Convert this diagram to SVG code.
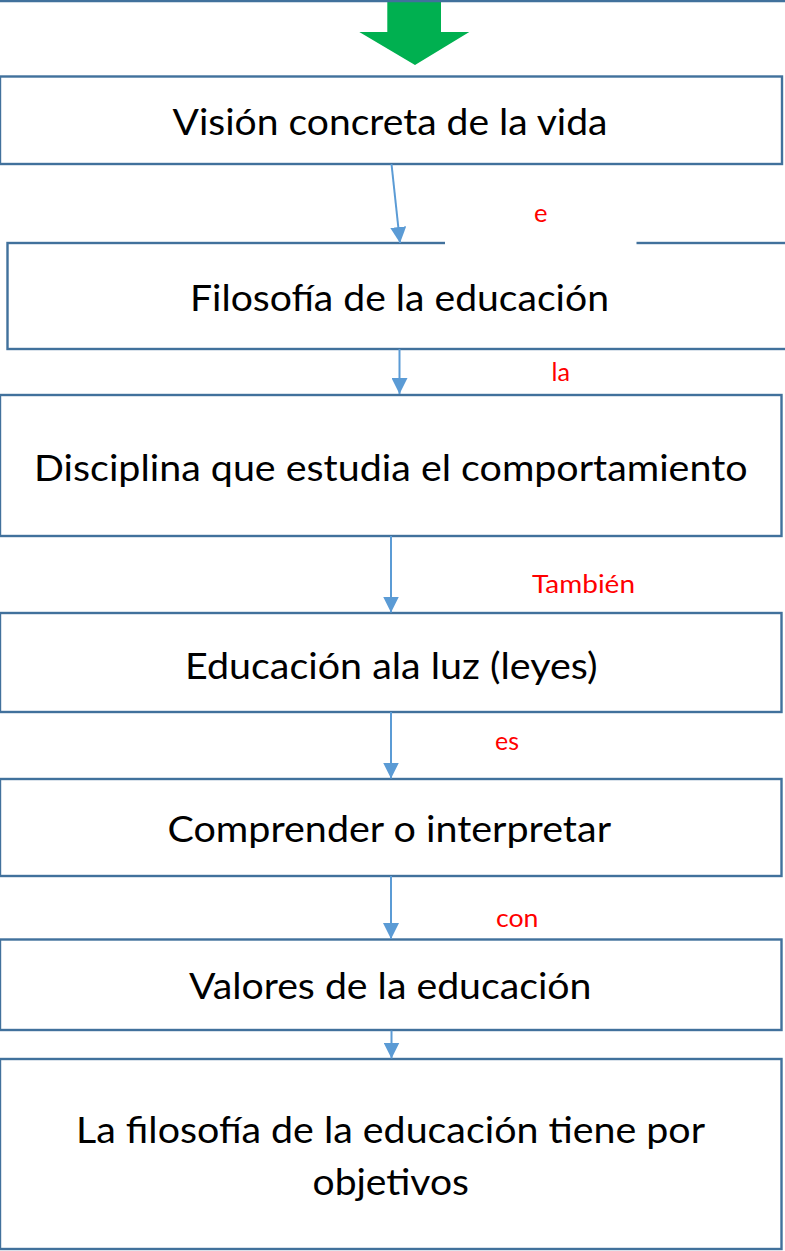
<svg xmlns="http://www.w3.org/2000/svg" width="785" height="1251" viewBox="0 0 785 1251">
<style>
.box{fill:#ffffff;stroke:#41719C;stroke-width:2.4}
.t{font-family:Lato,"Liberation Sans",sans-serif;font-size:36.5px;fill:#000000}
.lbl{font-family:Lato,"Liberation Sans",sans-serif;font-size:25.5px;fill:#FF0000}
.con{stroke:#5B9BD5;stroke-width:2;fill:none;marker-end:url(#ah)}
</style>
<defs>
<marker id="ah" markerUnits="userSpaceOnUse" markerWidth="16" markerHeight="16" viewBox="0 0 15 15" refX="15" refY="7.5" orient="auto">
<path d="M0,0 L15,7.5 L0,15 z" fill="#5B9BD5"/>
</marker>
</defs>
<rect width="785" height="1251" fill="#ffffff"/>
<g id="start-arrow">
<polygon points="387.3,0 441,0 441,32 469.3,32 415,65 359.3,32 387.3,32" fill="#00B050"/>
</g>
<g id="prev-box">
<line x1="0" y1="1" x2="785" y2="1" stroke="#41719C" stroke-width="2.4"/>
</g>
<g id="n1">
<rect class="box" x="0" y="76.5" width="782" height="87.5"/>
<text class="t" x="172.5" y="135" textLength="435" lengthAdjust="spacingAndGlyphs">Visión concreta de la vida</text>
</g>
<g id="n2">
<rect class="box" x="7.5" y="243" width="800" height="106"/>
<text class="t" x="190" y="310.7" textLength="419" lengthAdjust="spacingAndGlyphs">Filosofía de la educación</text>
</g>
<g id="n3">
<rect class="box" x="0" y="395" width="781.5" height="141"/>
<text class="t" x="34" y="480.7" textLength="713.5" lengthAdjust="spacingAndGlyphs">Disciplina que estudia el comportamiento</text>
</g>
<g id="n4">
<rect class="box" x="0" y="613" width="781.5" height="99"/>
<text class="t" x="185" y="679" textLength="412.5" lengthAdjust="spacingAndGlyphs">Educación ala luz (leyes)</text>
</g>
<g id="n5">
<rect class="box" x="0" y="779" width="781.5" height="97"/>
<text class="t" x="167.5" y="841.7" textLength="443.5" lengthAdjust="spacingAndGlyphs">Comprender o interpretar</text>
</g>
<g id="n6">
<rect class="box" x="0" y="939.5" width="781.5" height="90.5"/>
<text class="t" x="189" y="999.3" textLength="402.5" lengthAdjust="spacingAndGlyphs">Valores de la educación</text>
</g>
<g id="n7">
<rect class="box" x="0" y="1059" width="781.5" height="190"/>
<text class="t" x="76" y="1143" textLength="629" lengthAdjust="spacingAndGlyphs">La filosofía de la educación tiene por</text>
<text class="t" x="312.5" y="1195" textLength="156.5" lengthAdjust="spacingAndGlyphs">objetivos</text>
</g>
<g id="connectors">
<line class="con" x1="391.5" y1="164" x2="400" y2="243"/>
<line class="con" x1="399.5" y1="349" x2="399.5" y2="394"/>
<line class="con" x1="391" y1="536" x2="391" y2="612.5"/>
<line class="con" x1="391" y1="712" x2="391" y2="778.5"/>
<line class="con" x1="391" y1="876" x2="391" y2="939"/>
<line class="con" x1="391.5" y1="1030.5" x2="391.5" y2="1058.5"/>
</g>
<g id="labels">
<rect x="445" y="190" width="191.5" height="57" fill="#ffffff"/>
<text class="lbl" x="534" y="221.5" textLength="13.5" lengthAdjust="spacingAndGlyphs">e</text>
<text class="lbl" x="551.5" y="380.7" textLength="18.5" lengthAdjust="spacingAndGlyphs">la</text>
<text class="lbl" x="532" y="593.3" textLength="103" lengthAdjust="spacingAndGlyphs">También</text>
<text class="lbl" x="495" y="750" textLength="24" lengthAdjust="spacingAndGlyphs">es</text>
<text class="lbl" x="496" y="926.5" textLength="42.5" lengthAdjust="spacingAndGlyphs">con</text>
</g>
</svg>
